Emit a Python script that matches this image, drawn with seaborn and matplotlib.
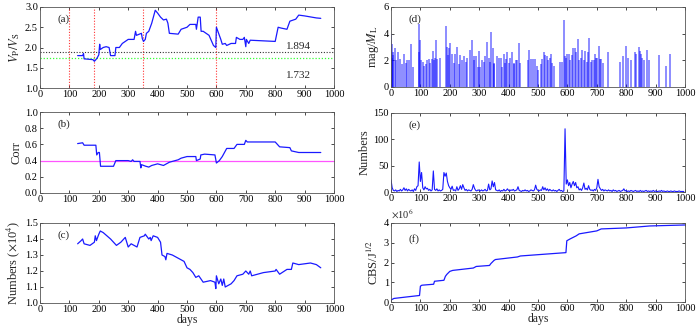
import matplotlib
matplotlib.use("Agg")
import matplotlib.pyplot as plt
import seaborn as sns
import numpy as np

# ---- panel (a): Vp/Vs ----
vpvs_day = [128, 145, 148, 150, 180, 185, 190, 195, 200, 203, 205, 215, 225, 235, 240, 255, 258, 270,
            280, 300, 320, 325, 328, 345, 348, 352, 358, 362, 370, 380, 392, 400, 410, 420, 430, 435,
            440, 470, 480, 500, 510, 530, 532, 538, 545, 548, 555, 575, 590, 598, 600, 605, 610, 615,
            620, 630, 635, 650, 665, 668, 680, 690, 695, 700, 702, 710, 715, 800, 810, 820, 840, 850,
            870, 880, 900, 940, 955]
vpvs_val = [1.80, 1.80, 1.85, 1.72, 1.70, 1.66, 1.70, 1.75, 1.82, 2.08, 1.95, 2.00, 2.02, 2.00, 1.80,
            1.80, 2.00, 2.00, 2.10, 2.20, 2.20, 2.40, 2.30, 2.35, 2.22, 2.15, 2.20, 2.35, 2.40, 2.60,
            2.92, 2.85, 2.75, 2.68, 2.70, 2.60, 2.35, 2.33, 2.45, 2.50, 2.57, 2.57, 2.45, 2.75, 2.75,
            2.40, 2.40, 2.30, 2.05, 2.00, 2.50, 2.40, 2.30, 2.20, 2.08, 2.10, 2.05, 2.10, 2.10, 2.25,
            2.20, 2.20, 2.25, 2.02, 2.20, 2.10, 2.18, 2.15, 2.50, 2.48, 2.45, 2.65, 2.70, 2.80, 2.78,
            2.73, 2.72]
event_days = [100, 185, 350, 597]
ref_hi, ref_lo = 1.894, 1.732

# ---- panel (b): correlation ----
corr_day = [128, 145, 150, 190, 193, 198, 202, 206, 250, 258, 300, 310, 315, 320, 340, 343, 345, 360,
            370, 380, 400, 420, 440, 470, 480, 500, 530, 532, 545, 547, 560, 595, 600, 610, 620, 635,
            660, 670, 695, 700, 705, 800, 815, 850, 855, 880, 955]
corr_val = [0.61, 0.62, 0.59, 0.59, 0.47, 0.50, 0.50, 0.33, 0.33, 0.40, 0.40, 0.39, 0.41, 0.39, 0.39,
            0.31, 0.35, 0.33, 0.32, 0.34, 0.36, 0.34, 0.38, 0.41, 0.43, 0.45, 0.45, 0.40, 0.42, 0.47,
            0.48, 0.47, 0.37, 0.40, 0.45, 0.55, 0.55, 0.60, 0.60, 0.65, 0.63, 0.63, 0.57, 0.56, 0.52,
            0.50, 0.50]
corr_ref = 0.4

# ---- panel (c): numbers (x10^4) ----
num_day = [128, 140, 145, 150, 170, 185, 188, 192, 200, 205, 215, 240, 260, 275, 290, 300, 310, 330,
           340, 355, 358, 370, 375, 378, 385, 400, 410, 415, 425, 428, 432, 450, 470, 490, 500, 510,
           520, 530, 540, 555, 580, 595, 598, 600, 608, 615, 620, 625, 630, 650, 660, 670, 690, 700,
           710, 715, 720, 760, 800, 803, 815, 840, 855, 860, 880, 920, 940, 955]
num_val = [1.37, 1.39, 1.40, 1.37, 1.36, 1.38, 1.42, 1.39, 1.43, 1.45, 1.44, 1.40, 1.36, 1.38, 1.41,
           1.35, 1.37, 1.35, 1.41, 1.42, 1.43, 1.40, 1.41, 1.39, 1.42, 1.41, 1.38, 1.30, 1.29, 1.27,
           1.31, 1.30, 1.28, 1.26, 1.22, 1.21, 1.19, 1.16, 1.17, 1.13, 1.14, 1.13, 1.09, 1.17, 1.12,
           1.15, 1.11, 1.15, 1.10, 1.12, 1.14, 1.17, 1.18, 1.20, 1.18, 1.20, 1.17, 1.19, 1.20, 1.21,
           1.18, 1.21, 1.21, 1.25, 1.24, 1.25, 1.24, 1.22]

# ---- panel (d): magnitudes ----
mag_day = [0, 2, 4, 6, 8, 12, 16, 24, 30, 38, 45, 50, 55, 62, 68, 75,
           94, 96, 99, 103, 108, 113, 118, 124, 130, 134, 139, 143, 147, 150, 154, 158, 165,
           186, 190, 194, 197, 202, 207, 213, 216, 224, 230, 236, 241, 249, 256, 260, 270, 275,
           281, 283, 290, 296, 298, 304, 309, 315, 320, 326, 332, 337, 340, 347, 349, 352, 360,
           366, 374, 377, 383, 388, 392, 396, 400, 405, 411, 417, 420, 426, 430, 434, 439,
           465, 470, 475, 482, 490, 495, 500, 510, 515, 520, 525, 530, 535, 540, 545, 548, 555,
           575, 583, 590, 593, 596, 600, 605, 610, 615, 620, 625, 630, 635, 640, 645, 650, 655,
           660, 665, 670, 675, 680, 685, 690, 695, 698, 702, 706, 710, 715, 720, 738,
           780, 790, 800, 805, 815, 830, 835, 842, 846, 850, 855, 860, 870, 878, 912, 935, 950]
mag_val = [4.0, 3.2, 2.2, 2.6, 2.4, 2.9, 2.0, 2.6, 2.1, 1.7, 2.5, 1.8, 2.0, 2.0, 3.2, 1.5,
           4.7, 2.6, 3.5, 2.0, 1.9, 1.6, 1.7, 2.0, 2.1, 1.8, 2.1, 2.7, 2.0, 2.2, 3.5, 2.1, 2.2,
           4.6, 3.0, 2.4, 2.9, 3.3, 2.5, 1.8, 2.5, 3.0, 1.7, 2.4, 2.0, 2.3, 1.9, 2.2, 2.8, 3.5,
           2.0, 2.3, 2.3, 1.5, 2.7, 1.5, 2.0, 1.9, 2.3, 3.4, 2.2, 1.9, 4.1, 2.9, 1.7, 1.8, 2.3,
           2.2, 2.2, 1.5, 2.5, 1.8, 2.1, 2.6, 1.8, 2.2, 2.6, 1.7, 1.8, 2.0, 2.0, 3.3, 1.8,
           2.0, 2.8, 2.1, 2.1, 2.1, 1.6, 1.3, 1.7, 2.1, 2.6, 2.4, 2.3, 2.0, 2.2, 2.5, 1.8, 1.6,
           1.9, 1.9, 5.0, 2.3, 2.2, 2.5, 2.5, 2.0, 2.4, 2.9, 2.9, 2.6, 3.6, 2.0, 2.2, 2.8, 2.0,
           2.7, 1.9, 2.6, 3.7, 1.9, 2.0, 2.0, 2.5, 2.2, 2.2, 3.1, 2.1, 2.1, 1.8, 2.6,
           1.9, 2.3, 3.1, 2.2, 2.0, 2.6, 2.5, 3.0, 2.7, 2.5, 2.2, 2.0, 2.8, 2.0, 2.4, 1.6, 2.5]

# ---- panel (e): event counts, one value every 4 days ----
count_val = [23, 8, 3, 2, 4, 1, 3, 2, 5, 2, 4, 8, 3, 6, 2, 5, 3, 2, 4, 1,
             6, 3, 10, 12, 57, 20, 37, 8, 4, 10, 6, 7, 3, 5, 2, 4, 40, 5, 3, 6,
             2, 4, 2, 3, 5, 37, 30, 36, 20, 12, 8, 5, 11, 3, 4, 2, 10, 3, 6, 12,
             5, 14, 8, 3, 5, 2, 4, 3, 2, 5, 14, 7, 3, 2, 4, 3, 2, 4, 2, 3,
             5, 2, 3, 15, 4, 6, 21, 10, 18, 4, 3, 2, 4, 1, 3, 2, 5, 2, 3, 6,
             3, 2, 4, 3, 5, 2, 3, 4, 10, 3, 2, 1, 3, 2, 4, 2, 3, 1, 2, 4,
             3, 2, 4, 13, 5, 3, 2, 4, 3, 10, 4, 8, 3, 6, 2, 5, 3, 2, 4, 2,
             3, 1, 3, 5, 2, 3, 1, 2, 120, 15, 23, 12, 18, 8, 15, 20, 12, 18, 8, 10,
             4, 6, 3, 8, 17, 5, 7, 4, 12, 5, 3, 4, 2, 5, 3, 8, 24, 10, 6, 3,
             5, 2, 4, 3, 2, 4, 2, 3, 1, 4, 2, 3, 1, 2, 3, 1, 2, 3, 6, 2,
             3, 1, 2, 1, 3, 2, 1, 2, 3, 1, 2, 1, 3, 1, 2, 1, 2, 3, 1, 2,
             1, 2, 1, 3, 1, 2, 1, 1, 2, 1, 3, 1, 2, 1, 1, 2, 1, 1, 2, 1,
             1, 2, 1, 1, 1, 2, 1, 1, 1, 1]
count_day = list(range(0, 4 * len(count_val), 4))

# ---- panel (f): cumulative Benioff strain (x10^6) ----
cbs_day = [0, 10, 50, 97, 100, 105, 145, 148, 180, 185, 190, 200, 210, 280, 290, 335, 340, 350, 355,
           430, 440, 595, 598, 610, 630, 640, 680, 700, 715, 800, 880, 1000]
cbs_val = [0.10, 0.18, 0.25, 0.33, 0.80, 0.85, 0.90, 1.05, 1.10, 1.30, 1.40, 1.55, 1.60, 1.72, 1.80,
           1.85, 1.95, 2.10, 2.15, 2.28, 2.33, 2.50, 3.10, 3.20, 3.35, 3.45, 3.55, 3.60, 3.70, 3.75,
           3.85, 3.90]

sns.set_theme(style="ticks")
plt.rcParams['font.family'] = ['Liberation Serif', 'DejaVu Serif']
plt.rcParams['mathtext.fontset'] = 'stix'
plt.rcParams['font.size'] = 7.5
plt.rcParams['axes.linewidth'] = 0.6

fig = plt.figure(figsize=(7, 3.29), dpi=100)
W, H = 700, 329


def make_ax(x0, y_top, y_bot):
    ax = fig.add_axes([x0 / W, (H - y_bot) / H, 294 / W, (y_bot - y_top) / H])
    ax.tick_params(direction='in', top=True, right=True, length=2.5, width=0.5,
                   labelsize=7.5, pad=1.5, colors='black')
    for s in ax.spines.values():
        s.set_color('#555555')
    ax.set_xlim(0, 1000)
    ax.set_xticks(range(0, 1001, 100))
    return ax


blue = '#1a1aff'
dots = (0, (1, 1.5))

# (a)
ax = make_ax(40, 7, 88)
for d in event_days:
    ax.axvline(d, color='#ff3333', ls=dots, lw=0.8)
ax.axhline(ref_hi, color='#333333', ls=dots, lw=0.8)
ax.axhline(ref_lo, color='#33ff33', ls=dots, lw=0.9)
sns.lineplot(x=vpvs_day, y=vpvs_val, ax=ax, color=blue, lw=0.9, estimator=None)
ax.set_ylim(1.0, 3.0)
ax.set_yticks([1.0, 1.5, 2.0, 2.5, 3.0])
ax.set_yticklabels(['1.0', '1.5', '2.0', '2.5', '3.0'])
ax.text(880, ref_hi + 0.03, f"{ref_hi:.3f}", ha='center', va='bottom', fontsize=8)
ax.text(880, 1.32, f"{ref_lo:.3f}", ha='center', va='center', fontsize=8)
ax.text(0.06, 0.85, '(a)', transform=ax.transAxes, va='center', fontsize=8)
ax.set_ylabel(r"$V_{\rm P}/V_{\rm S}$", fontsize=9, labelpad=2)

# (b)
ax = make_ax(40, 112, 193)
ax.axhline(corr_ref, color='#ff55ff', lw=0.9)
sns.lineplot(x=corr_day, y=corr_val, ax=ax, color=blue, lw=0.9, estimator=None)
ax.set_ylim(0, 1.0)
ax.set_yticks([0, 0.2, 0.4, 0.6, 0.8, 1.0])
ax.set_yticklabels(['0.0', '0.2', '0.4', '0.6', '0.8', '1.0'])
ax.text(0.06, 0.85, '(b)', transform=ax.transAxes, va='center', fontsize=8)
ax.set_ylabel('Corr', fontsize=9, labelpad=2)

# (c)
ax = make_ax(40, 223, 303)
sns.lineplot(x=num_day, y=num_val, ax=ax, color=blue, lw=0.9, estimator=None)
ax.set_ylim(1.0, 1.5)
ax.set_yticks([1.0, 1.1, 1.2, 1.3, 1.4, 1.5])
ax.set_yticklabels(['1.0', '1.1', '1.2', '1.3', '1.4', '1.5'])
ax.text(0.06, 0.85, '(c)', transform=ax.transAxes, va='center', fontsize=8)
ax.set_ylabel(r"Numbers ($\times$10$^4$)", fontsize=9, labelpad=2)
ax.set_xlabel('days', fontsize=8.5, labelpad=0)

# (d)
ax = make_ax(391, 7, 87)
ax.vlines(mag_day, 0, mag_val, color='blue', lw=1.4, alpha=0.45)
ax.set_ylim(0, 6)
ax.set_yticks([0, 2, 4, 6])
ax.text(0.06, 0.85, '(d)', transform=ax.transAxes, va='center', fontsize=8)
ax.set_ylabel(r"mag/$M_{\rm L}$", fontsize=9, labelpad=2)

# (e)
ax = make_ax(391, 113, 192)
sns.lineplot(x=count_day, y=count_val, ax=ax, color=blue, lw=0.8, estimator=None)
ax.set_ylim(0, 150)
ax.set_yticks([0, 50, 100, 150])
ax.text(0.06, 0.85, '(e)', transform=ax.transAxes, va='center', fontsize=8)
ax.set_ylabel('Numbers', fontsize=9, labelpad=2)

# (f)
ax = make_ax(391, 223, 302)
sns.lineplot(x=cbs_day, y=cbs_val, ax=ax, color=blue, lw=0.9, estimator=None)
ax.set_ylim(0, 4)
ax.set_yticks([0, 1, 2, 3, 4])
ax.text(0.06, 0.8, '(f)', transform=ax.transAxes, va='center', fontsize=8)
ax.text(0.0, 1.02, r"$\times$10$^6$", transform=ax.transAxes, va='bottom', fontsize=7.5)
ax.set_ylabel(r"CBS/J$^{1/2}$", fontsize=9, labelpad=2)
ax.set_xlabel('days', fontsize=8.5, labelpad=0)

fig.savefig('out.png', dpi=100)
